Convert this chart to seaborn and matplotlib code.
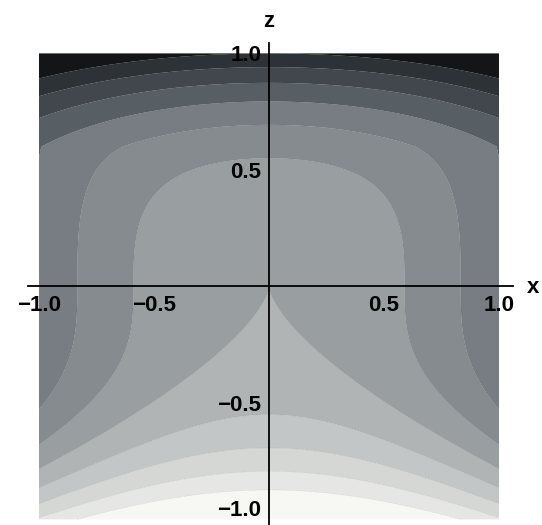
import numpy as np
import matplotlib
matplotlib.use("Agg")
import matplotlib.pyplot as plt
import seaborn as sns
from matplotlib.ticker import FixedLocator, FixedFormatter

# Contour levels (steps of 1/6) and the shade of each band, light to dark
levels = [-1.05, -4/6, -3/6, -2/6, -1/6, 0.0, 1/6, 2/6, 3/6, 4/6, 5/6, 1.0, 1.6]
band_colors = ["#f7f7f3", "#e6e7e4", "#d5d7d5", "#c3c6c6", "#b0b4b5",
               "#999ea1", "#868b8f", "#777d82", "#585f64", "#41474c", "#2d3236", "#131517"]

# Axis ticks
major_ticks = [-1.0, -0.5, 0.5, 1.0]
x_labels = ["\u22121.0", "\u22120.5", "0.5", "1.0"]
z_labels = ["", "\u22120.5", "0.5", "1.0"]
z_bottom_label = "\u22121.0"
minor_ticks = [-0.9, -0.8, -0.7, -0.6, -0.4, -0.3, -0.2, -0.1, 0.0,
               0.1, 0.2, 0.3, 0.4, 0.6, 0.7, 0.8, 0.9]

# Field parameters: f = z^3 + c(z) x^2, c falling from c_low to c_high over 0 < z < z_top
c_low, c_high, z_top = 0.48, 0.29, 0.6

x = np.linspace(-1.0, 1.0, 801)
z = np.linspace(-1.0, 1.0, 801)
X, Z = np.meshgrid(x, z)
ramp = np.minimum(np.clip(Z / z_top, 0.0, None) ** 3, 1.0)
C = c_low - (c_low - c_high) * ramp
F = Z**3 + C * X**2

sns.set_theme(style="white")
plt.rcParams["font.family"] = ["Liberation Sans", "DejaVu Sans"]
plt.rcParams["axes.unicode_minus"] = True

fig = plt.figure(figsize=(5.42, 5.25), dpi=100)
ax = fig.add_axes([0, 0, 1, 1])
ax.set_facecolor("white")
ax.set_axisbelow(False)

palette = sns.color_palette(band_colors)
ax.contourf(X, Z, F, levels=levels, colors=palette, antialiased=True, zorder=1)
ax.contour(X, Z, F, levels=levels[1:-1], colors="#000000", linewidths=0.4,
           alpha=0.10, zorder=1.2)

ax.set_xlim(-269 / 230, 273 / 230)
ax.set_ylim((286.4 - 525) / 233, 286.4 / 233)

# Axes crossing at the origin
for side in ("top", "right"):
    ax.spines[side].set_visible(False)
ax.spines["left"].set_position(("data", 0))
ax.spines["bottom"].set_position(("data", 0))
ax.spines["bottom"].set_bounds(-1.048, 1.061)
ax.spines["left"].set_bounds(-1.03, 1.043)
for side in ("left", "bottom"):
    ax.spines[side].set_linewidth(1.3)
    ax.spines[side].set_color("black")
    ax.spines[side].set_zorder(3)

ax.xaxis.set_major_locator(FixedLocator(major_ticks))
ax.xaxis.set_major_formatter(FixedFormatter(x_labels))
ax.yaxis.set_major_locator(FixedLocator(major_ticks))
ax.yaxis.set_major_formatter(FixedFormatter(z_labels))
for axis in (ax.xaxis, ax.yaxis):
    axis.set_minor_locator(FixedLocator(minor_ticks))
    axis.set_zorder(3)

ax.tick_params(which="major", direction="in", length=4.8, width=1.0, color="black")
ax.tick_params(which="minor", direction="in", length=3.4, width=1.0, color="black")
ax.tick_params(axis="x", which="major", pad=6.0)
ax.tick_params(axis="y", which="major", pad=5.5)
for lab in ax.get_xticklabels() + ax.get_yticklabels():
    lab.set_fontsize(16)
    lab.set_fontweight("bold")
    lab.set_color("black")

label_font = dict(fontsize=16, fontweight="bold", color="black", zorder=4)
# lowest z label sits just inside the lower edge
ax.text(-0.036, -0.962, z_bottom_label, ha="right", va="center", **label_font)
ax.text(0.0, 1.139, "z", ha="center", va="center", **label_font)
ax.text(1.148, -0.005, "x", ha="center", va="center", **label_font)

fig.savefig("out.png", dpi=100)
